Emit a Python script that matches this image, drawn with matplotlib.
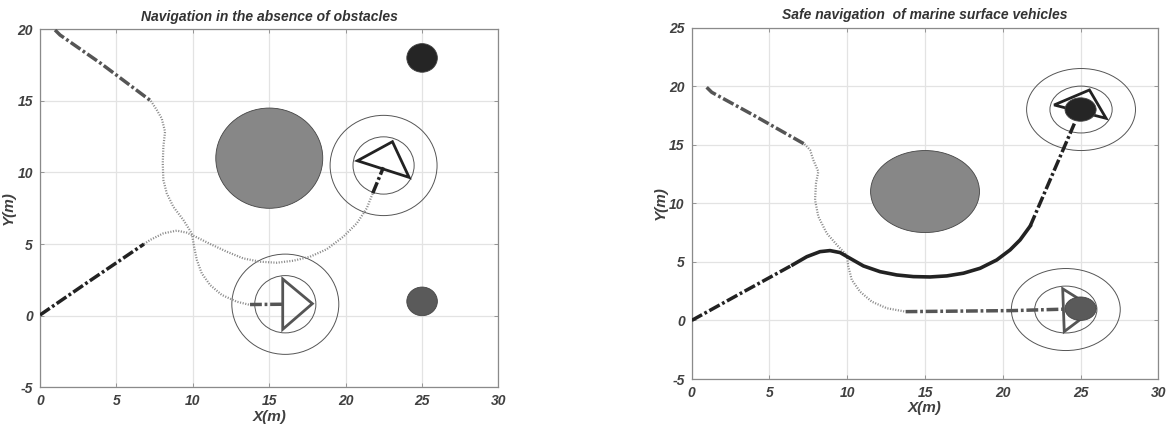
import numpy as np
import matplotlib.pyplot as plt
from matplotlib.patches import Ellipse, Polygon

# ---------- data ----------
# obstacles: centre, radius, colour
obs_x = [15, 25, 25]
obs_y = [11, 18, 1]
obs_r = [3.5, 1.0, 1.0]
obs_c = ['#878787', '#252525', '#5a5a5a']

# left panel, vessel 1 (black, starts at 0,0)
l1_dash_x = [0.0, 3.0, 6.8]
l1_dash_y = [0.05, 2.25, 5.0]
l1_dot_x = [6.8, 7.2, 8.07, 8.94, 9.6, 10.26, 11.13, 12.22, 13.3, 14.4, 15.49,
            16.58, 17.67, 18.76, 19.85, 20.73, 21.38, 21.77]
l1_dot_y = [5.0, 5.29, 5.75, 5.94, 5.8, 5.47, 5.01, 4.47, 4.0, 3.77, 3.7,
            3.84, 4.12, 4.64, 5.52, 6.45, 7.5, 8.55]
l1_end_x = [21.77, 22.47]
l1_end_y = [8.55, 10.36]

# left panel, vessel 2 (grey, starts at 1,20)
l2_dash_x = [0.98, 1.31, 4.0, 7.25]
l2_dash_y = [19.95, 19.6, 17.6, 15.0]
l2_dot_x = [7.25, 7.64, 7.96, 8.18, 8.07, 8.03, 8.07, 8.29, 8.72, 9.38, 9.93,
            10.08, 10.26, 10.58, 11.13, 11.89, 12.87, 13.74]
l2_dot_y = [15.0, 14.36, 13.78, 12.85, 11.8, 10.64, 9.48, 8.55, 7.61, 6.68, 5.75,
            4.82, 3.89, 2.96, 2.14, 1.45, 0.98, 0.75]
l2_end_x = [13.74, 15.95]
l2_end_y = [0.78, 0.8]

# right panel, vessel 1
r1_dash_x = [0.0, 3.0, 6.5]
r1_dash_y = [0.0, 2.2, 4.75]
r1_solid_x = [6.5, 7.4, 8.25, 8.89, 9.54, 10.18, 11.04, 12.11, 13.18, 14.25, 15.32,
              16.4, 17.47, 18.54, 19.61, 20.47, 21.11, 21.76]
r1_solid_y = [4.75, 5.44, 5.87, 5.96, 5.79, 5.3, 4.65, 4.16, 3.88, 3.74, 3.71,
              3.8, 4.03, 4.45, 5.16, 6.02, 6.87, 8.05]
r1_end_x = [21.76, 24.6]
r1_end_y = [8.05, 16.8]

# right panel, vessel 2
r2_dash_x = [0.96, 1.29, 4.0, 7.25]
r2_dash_y = [19.9, 19.47, 17.5, 15.05]
r2_dot_x = [7.25, 7.61, 7.82, 8.14, 7.99, 7.93, 8.14, 8.68, 9.43, 9.97, 10.07,
            10.29, 10.82, 11.58, 12.54, 13.75]
r2_dot_y = [15.05, 14.55, 13.69, 12.7, 11.71, 10.28, 8.86, 7.44, 6.3, 5.59, 4.59,
            3.46, 2.46, 1.6, 1.04, 0.75]
r2_end_x = [13.75, 20.68, 23.9]
r2_end_y = [0.75, 0.84, 0.96]

# vessel triangles and safety-ring centres
l1_tri_x = [20.77, 23.06, 24.15]
l1_tri_y = [10.82, 12.15, 9.66]
l1_ring = (22.48, 10.49)
l2_tri_x = [15.88, 15.88, 17.82]
l2_tri_y = [2.56, -0.95, 0.84]
l2_ring = (16.05, 0.8)
r1_tri_x = [23.3, 25.57, 26.64]
r1_tri_y = [18.39, 19.67, 17.25]
r1_ring = (25.03, 18.0)
r2_tri_x = [23.85, 23.95, 25.9]
r2_tri_y = [2.7, -0.95, 1.0]
r2_ring = (24.05, 0.93)
ring_r = [2.0, 3.5]

BLACK = '#222222'
GREY = '#555555'
DOT = '#8c8c8c'
DASHDOT = (3.4, 0.8, 0.8, 0.8)
DOTTED = (0, (0.5, 0.7))

plt.rcParams['font.family'] = ['Liberation Sans', 'DejaVu Sans']
plt.rcParams['font.weight'] = 'bold'
plt.rcParams['font.style'] = 'italic'
plt.rcParams['axes.titleweight'] = 'bold'
plt.rcParams['axes.labelweight'] = 'bold'
plt.rcParams['axes.unicode_minus'] = False

fig = plt.figure(figsize=(11.71, 4.30), dpi=100)
ax1 = fig.add_axes([0.0342, 0.0993, 0.3915, 0.8326])
ax2 = fig.add_axes([0.5907, 0.1186, 0.3985, 0.8174])


def style_axes(ax, ylo, yhi, title):
    ax.set_xlim(0, 30)
    ax.set_ylim(ylo, yhi)
    ax.set_xticks(range(0, 31, 5))
    ax.set_yticks(range(ylo, yhi + 1, 5))
    ax.grid(True, color='#e3e3e3', lw=0.9)
    ax.set_axisbelow(True)
    ax.tick_params(direction='in', length=3, width=0.6, color='#888888',
                   top=True, right=True, labelsize=10, labelcolor='#404040', pad=5)
    for sp in ax.spines.values():
        sp.set_color('#8a8a8a')
        sp.set_linewidth(0.9)
    ax.set_title(title, fontsize=10, fontweight='bold', fontstyle='italic',
                 color='#333333', pad=6)
    ax.set_xlabel('X(m)', fontsize=11, fontweight='bold', fontstyle='italic',
                  color='#404040', labelpad=1)
    ax.set_ylabel('Y(m)', fontsize=11, fontweight='bold', fontstyle='italic',
                  color='#404040', labelpad=1)


def draw_obstacles(ax):
    for x, y, r, c in zip(obs_x, obs_y, obs_r, obs_c):
        ax.add_patch(Ellipse((x, y), 2 * r, 2 * r, facecolor=c,
                             edgecolor='#444444', lw=0.6, zorder=4))


def draw_vessel(ax, tx, ty, ring, color):
    for r in ring_r:
        ax.add_patch(Ellipse(ring, 2 * r, 2 * r, fill=False,
                             edgecolor='#555555', lw=0.7, zorder=2))
    ax.add_patch(Polygon(np.column_stack([tx, ty]), closed=True, fill=False,
                         edgecolor=color, lw=2.0, joinstyle='miter', zorder=3))


# ---------- left panel ----------
style_axes(ax1, -5, 20, 'Navigation in the absence of obstacles')
ax1.plot(l1_dot_x, l1_dot_y, color=DOT, lw=1.6, ls=DOTTED, zorder=3)
ax1.plot(l2_dot_x, l2_dot_y, color=DOT, lw=1.6, ls=DOTTED, zorder=3)
ax1.plot(l1_dash_x, l1_dash_y, color=BLACK, lw=2.5, dashes=DASHDOT, zorder=3)
ax1.plot(l2_dash_x, l2_dash_y, color=GREY, lw=2.5, dashes=DASHDOT, zorder=3)
ax1.plot(l1_end_x, l1_end_y, color=BLACK, lw=2.5, dashes=DASHDOT, zorder=3)
ax1.plot(l2_end_x, l2_end_y, color=GREY, lw=2.5, dashes=DASHDOT, zorder=3)
draw_vessel(ax1, l1_tri_x, l1_tri_y, l1_ring, BLACK)
draw_vessel(ax1, l2_tri_x, l2_tri_y, l2_ring, GREY)
draw_obstacles(ax1)

# ---------- right panel ----------
style_axes(ax2, -5, 25, 'Safe navigation  of marine surface vehicles')
ax2.plot(r2_dot_x, r2_dot_y, color=DOT, lw=1.6, ls=DOTTED, zorder=3)
ax2.plot(r1_dash_x, r1_dash_y, color=BLACK, lw=2.5, dashes=DASHDOT, zorder=3)
ax2.plot(r1_solid_x, r1_solid_y, color=BLACK, lw=2.6, solid_joinstyle='round', zorder=3)
ax2.plot(r1_end_x, r1_end_y, color=BLACK, lw=2.5, dashes=DASHDOT, zorder=3)
ax2.plot(r2_dash_x, r2_dash_y, color=GREY, lw=2.5, dashes=DASHDOT, zorder=3)
ax2.plot(r2_end_x, r2_end_y, color=GREY, lw=2.5, dashes=DASHDOT, zorder=3)
draw_vessel(ax2, r1_tri_x, r1_tri_y, r1_ring, BLACK)
draw_vessel(ax2, r2_tri_x, r2_tri_y, r2_ring, GREY)
draw_obstacles(ax2)

fig.savefig('out.png', dpi=100)
